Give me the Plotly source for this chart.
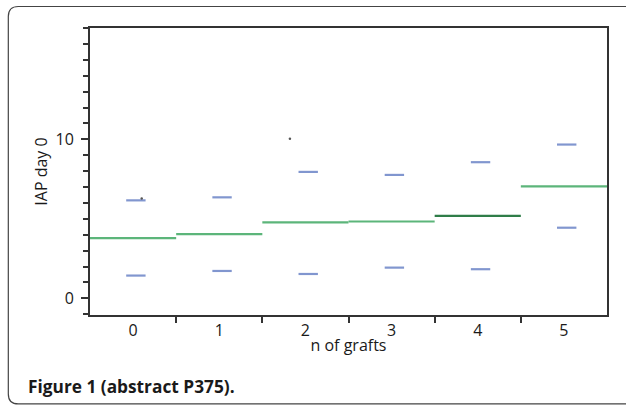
import plotly.graph_objects as go

# ---- data ----
grafts = [0, 1, 2, 3, 4, 5]
tick_labels = ["0", "1", "2", "3", "4", "5"]
group_mean = [3.79, 4.04, 4.77, 4.83, 5.19, 7.04]
upper_bar = [6.16, 6.35, 7.95, 7.76, 8.56, 9.67]
lower_bar = [1.43, 1.72, 1.53, 1.93, 1.83, 4.44]
extra_x = [0.10, 1.82]
extra_y = [6.28, 10.03]

GREEN = "#5cb57a"
GREEN_DARK = "#2f7d48"
BLUE = "#8196cf"

fig = go.Figure()

# mean lines, spanning the whole category band
for i, (g, m) in enumerate(zip(grafts, group_mean)):
    fig.add_trace(go.Scatter(
        x=[g - 0.5, g + 0.5], y=[m, m], mode="lines",
        line=dict(color=GREEN_DARK if i == 4 else GREEN, width=2.2),
        hoverinfo="skip", showlegend=False))

# upper / lower short dashes
def dash_xy(vals):
    xs, ys = [], []
    for g, v in zip(grafts, vals):
        xs += [g - 0.08, g + 0.145, None]
        ys += [v, v, None]
    return xs, ys

for vals in (upper_bar, lower_bar):
    xs, ys = dash_xy(vals)
    fig.add_trace(go.Scatter(x=xs, y=ys, mode="lines",
                             line=dict(color=BLUE, width=2.2),
                             hoverinfo="skip", showlegend=False))

fig.add_trace(go.Scatter(x=extra_x, y=extra_y, mode="markers",
                         marker=dict(color="#555555", size=2.5),
                         hoverinfo="skip", showlegend=False))

FONT = "Open Sans, Noto Sans, sans-serif"
TXT = "#1a1a1a"

fig.update_layout(
    width=626, height=406,
    margin=dict(l=90, r=19, t=28, b=91),
    paper_bgcolor="white", plot_bgcolor="white",
    font=dict(family=FONT, color=TXT),
    xaxis=dict(
        range=[-0.5, 5.5], tickmode="array", tickvals=grafts, ticktext=tick_labels,
        ticks="", showgrid=False, zeroline=False,
        showline=True, linecolor="#333333", linewidth=2, mirror=True,
        tickfont=dict(size=16, color=TXT),
        minor=dict(tickmode="array", tickvals=[0.5, 1.5, 2.5, 3.5, 4.5],
                   ticks="outside", ticklen=6, tickwidth=1.5, tickcolor="#333333"),
        title=dict(text="n of grafts", font=dict(size=16, color=TXT), standoff=0),
    ),
    yaxis=dict(
        range=[-1.05, 17.0], tickmode="array", tickvals=[0, 10], ticktext=["0", "10"],
        ticks="outside", ticklen=7, tickwidth=1.5, tickcolor="#333333",
        ticklabelstandoff=4,
        showgrid=False, zeroline=False,
        showline=True, linecolor="#333333", linewidth=2, mirror=True,
        tickfont=dict(size=16, color=TXT),
        minor=dict(tickmode="linear", tick0=0, dtick=1, ticks="outside",
                   ticklen=5, tickwidth=1.5, tickcolor="#333333"),
        title=dict(text="IAP day 0", font=dict(size=16, color=TXT), standoff=4),
    ),
)

# rounded card border (decoration)
rx, ry = 10 / 517, 10 / 287
x0, x1, y0, y1 = -0.158, 1.20, -0.31, 1.0749
path = (f"M {x0+rx},{y1} L {x1},{y1} M {x0+rx},{y1} Q {x0},{y1} {x0},{y1-ry} "
        f"L {x0},{y0+ry} Q {x0},{y0} {x0+rx},{y0} L {x1},{y0}")
fig.add_shape(type="path", path=path, xref="paper", yref="paper",
              line=dict(color="#444444", width=1.2), layer="below")

fig.add_annotation(text="<b>Figure 1 (abstract P375).</b>", xref="paper", yref="paper",
                   x=-0.1238, y=-0.2474, xanchor="left", yanchor="middle",
                   showarrow=False, font=dict(family=FONT, size=17.3, color=TXT))

fig.write_html("out.html", config={"displayModeBar": False},
               post_script="document.body.style.margin='0';document.body.style.padding='0';")
